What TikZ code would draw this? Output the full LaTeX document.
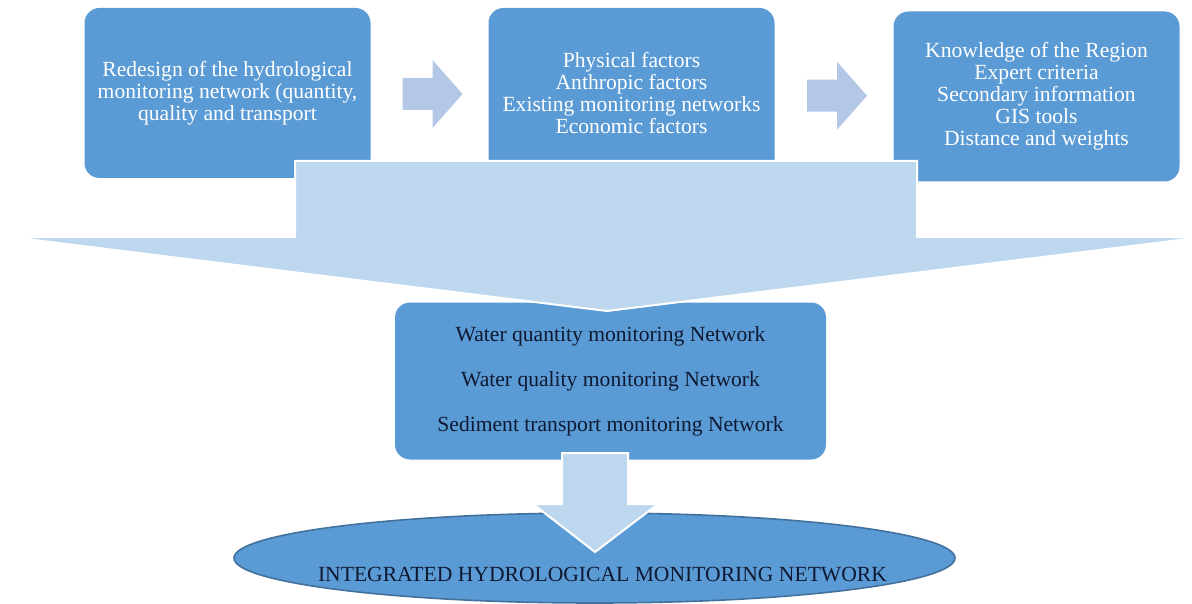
\documentclass[tikz,border=0pt]{standalone}
\usepackage{fontspec}
\setmainfont{Liberation Serif}
\usetikzlibrary{shapes.geometric,calc}
\definecolor{boxblue}{RGB}{91,155,213}
\definecolor{arrowblue}{RGB}{189,215,238}
\definecolor{stepblue}{RGB}{180,199,231}
\definecolor{rimblue}{RGB}{65,113,156}
\definecolor{inkblue}{RGB}{15,25,50}
\begin{document}
\begin{tikzpicture}[x=0.5pt,y=-0.5pt,
    topbox/.style={fill=boxblue, rounded corners=7.5pt, text=white, align=center,
        inner sep=0pt, minimum width=143pt, minimum height=85pt,
        font=\fontsize{10.8}{11}\selectfont},
    netbox/.style={fill=boxblue, rounded corners=7.5pt, text=inkblue, align=center,
        inner sep=0pt, minimum width=215.5pt, minimum height=78.5pt,
        font=\fontsize{10.8}{22.5}\selectfont},
    bigarrow/.style={fill=arrowblue, draw=white, line width=1pt, line join=miter}]
    \useasboundingbox (0,0) rectangle (1192,604);
    % 上方三个方框
    \node[topbox] (redesign) at (227.5,93) {Redesign of the hydrological\\monitoring network (quantity,\\quality and transport};
    \node[topbox] (factors) at (631.5,93) {Physical factors\\Anthropic factors\\Existing monitoring networks\\Economic factors};
    \node[topbox] (knowledge) at (1036.5,96.5) {Knowledge of the Region\\Expert criteria\\Secondary information\\GIS tools\\Distance and weights};
    % 中间的监测网络
    \node[netbox] (networks) at (610.5,381) {Water quantity monitoring Network\\Water quality monitoring Network\\Sediment transport monitoring Network};
    % 底部椭圆
    \node[ellipse, fill=boxblue, draw=rimblue, line width=0.8pt, inner sep=0pt,
          minimum width=360.5pt, minimum height=45pt] (integrated) at (594.5,558) {};
    % 小箭头
    \coordinate (g1) at ($(redesign.east)!0.5!(factors.west)$);
    \coordinate (g2) at ($(factors.east)!0.5!(knowledge.west)$);
    \foreach \g in {g1,g2}
        \fill[stepblue, shift={(\g)}] (-27,-15) -- (3,-15) -- (3,-33) -- (33,1)
            -- (3,35) -- (3,17) -- (-27,17) -- cycle;
    % 大箭头
    \draw[bigarrow] (295,161) -- (917,161) -- (917,237) -- (1204,237) -- (607,311)
        -- (10,237) -- (295,237) -- cycle;
    \draw[bigarrow] (562,453) -- (628,453) -- (628,504) -- (658,504) -- (595,552)
        -- (533,504) -- (562,504) -- cycle;
    \node[text=inkblue, inner sep=0pt, font=\fontsize{10.8}{11}\selectfont] (integratedtext)
        at ([xshift=4pt,yshift=-8.5pt]integrated.center) {INTEGRATED HYDROLOGICAL MONITORING NETWORK};
\end{tikzpicture}
\end{document}
